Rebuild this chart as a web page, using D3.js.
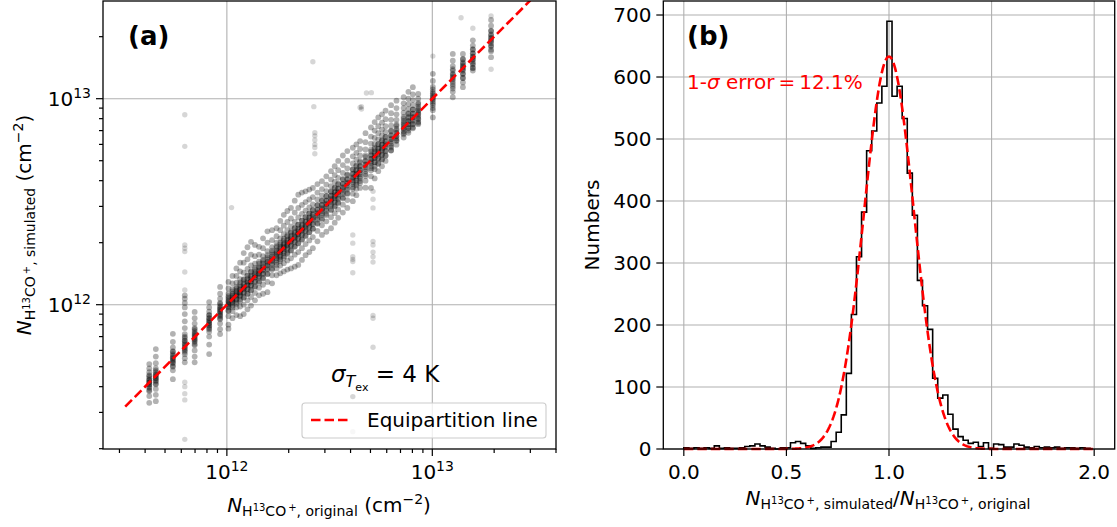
<!DOCTYPE html>
<html>
<head>
<meta charset="utf-8">
<script src="https://cdn.jsdelivr.net/npm/d3@7"></script>
<style>
  body { margin: 0; background: #fff; }
  svg { font-family: "DejaVu Sans", sans-serif; }
  text { white-space: pre; }
</style>
</head>
<body>
<svg width="1117" height="527"></svg>
<script>
// ---- panel (a): original vs simulated column density, in units of 1e12 cm^-2
const colX = [0.419, 0.451, 0.546, 0.624, 0.697, 0.820, 0.927, 1.018, 1.065, 1.113,
  1.16, 1.208, 1.26, 1.311, 1.37, 1.434, 1.50, 1.576, 1.66, 1.745,
  1.82, 1.893, 1.97, 2.051, 2.14, 2.226, 2.32, 2.416, 2.52, 2.622,
  2.76, 2.903, 3.05, 3.214, 3.35, 3.483, 3.67, 3.858, 4.102, 4.27,
  4.451, 4.73, 5.029, 5.24, 5.458, 5.69, 5.922, 6.3, 6.693, 7.254,
  7.65, 8.04, 8.54, 10.06, 12.58, 14.09, 15.75, 19.32];

// full spread of each column
const colY = [
  [0.515, 0.49, 0.47, 0.455, 0.44, 0.43, 0.42, 0.41, 0.395, 0.38, 0.36, 0.334],
  [0.609, 0.56, 0.52, 0.49, 0.47, 0.455, 0.44, 0.425, 0.41, 0.39, 0.365, 0.34],
  [0.722, 0.66, 0.62, 0.595, 0.575, 0.555, 0.54, 0.525, 0.505, 0.48, 0.435],
  [1.11, 1.07, 1.02, 0.97, 0.9, 0.83, 0.77, 0.72, 0.69, 0.665, 0.64, 0.62, 0.6, 0.575, 0.55, 0.525],
  [0.922, 0.86, 0.81, 0.77, 0.745, 0.72, 0.7, 0.68, 0.66, 0.635, 0.6, 0.56, 0.525],
  [1.03, 0.97, 0.925, 0.89, 0.86, 0.835, 0.815, 0.795, 0.77, 0.74, 0.7, 0.64, 0.576],
  [1.22, 1.13, 1.07, 1.02, 0.985, 0.955, 0.93, 0.905, 0.88, 0.85, 0.81, 0.76, 0.72],
  [1.29, 1.2, 1.13, 1.08, 1.04, 1.01, 0.98, 0.94, 0.88, 0.8, 0.765],
  [1.38, 1.27, 1.19, 1.13, 1.09, 1.06, 1.03, 0.99, 0.93, 0.86],
  [1.5, 1.38, 1.28, 1.2, 1.15, 1.11, 1.07, 1.03, 0.97, 0.89],
  [1.6, 1.45, 1.33, 1.25, 1.19, 1.15, 1.11, 1.06, 0.98, 0.88],
  [1.78, 1.6, 1.43, 1.32, 1.25, 1.2, 1.15, 1.09, 1.0, 0.9],
  [1.9, 1.66, 1.49, 1.38, 1.3, 1.25, 1.2, 1.13, 1.05, 0.95],
  [2.02, 1.75, 1.55, 1.44, 1.36, 1.3, 1.24, 1.18, 1.09, 0.99],
  [1.95, 1.72, 1.58, 1.48, 1.41, 1.36, 1.3, 1.23, 1.14, 1.05],
  [1.91, 1.75, 1.62, 1.53, 1.47, 1.42, 1.37, 1.3, 1.21, 1.11],
  [2.1, 1.88, 1.72, 1.62, 1.54, 1.48, 1.42, 1.35, 1.25, 1.13],
  [2.27, 2.0, 1.82, 1.7, 1.62, 1.56, 1.5, 1.41, 1.29, 1.15],
  [2.3, 2.06, 1.9, 1.79, 1.71, 1.65, 1.58, 1.5, 1.39, 1.27],
  [2.35, 2.15, 2.0, 1.89, 1.8, 1.74, 1.68, 1.6, 1.5, 1.39],
  [2.55, 2.3, 2.1, 1.97, 1.88, 1.81, 1.74, 1.66, 1.55, 1.42],
  [2.73, 2.42, 2.2, 2.06, 1.96, 1.89, 1.81, 1.72, 1.59, 1.45],
  [2.85, 2.52, 2.3, 2.15, 2.04, 1.96, 1.88, 1.78, 1.64, 1.48],
  [2.95, 2.62, 2.4, 2.24, 2.12, 2.04, 1.95, 1.84, 1.68, 1.5],
  [3.2, 2.8, 2.52, 2.35, 2.22, 2.13, 2.04, 1.92, 1.75, 1.53],
  [3.42, 2.95, 2.65, 2.45, 2.31, 2.21, 2.11, 1.98, 1.8, 1.56],
  [3.5, 3.05, 2.76, 2.56, 2.41, 2.31, 2.2, 2.07, 1.88, 1.65],
  [3.55, 3.15, 2.86, 2.66, 2.51, 2.41, 2.3, 2.16, 1.97, 1.74],
  [3.62, 3.24, 2.97, 2.77, 2.62, 2.51, 2.4, 2.25, 2.05, 1.8],
  [3.69, 3.33, 3.07, 2.88, 2.73, 2.61, 2.49, 2.34, 2.13, 1.88],
  [3.85, 3.5, 3.24, 3.04, 2.88, 2.76, 2.64, 2.49, 2.28, 2.03],
  [3.98, 3.64, 3.39, 3.2, 3.04, 2.91, 2.78, 2.63, 2.43, 2.18],
  [4.2, 3.83, 3.56, 3.36, 3.19, 3.06, 2.92, 2.76, 2.54, 2.26],
  [4.45, 4.05, 3.76, 3.54, 3.36, 3.22, 3.07, 2.9, 2.66, 2.35],
  [4.7, 4.26, 3.94, 3.7, 3.51, 3.36, 3.2, 3.02, 2.78, 2.5],
  [4.99, 4.5, 4.13, 3.87, 3.66, 3.5, 3.33, 3.14, 2.9, 2.64],
  [5.3, 4.76, 4.36, 4.08, 3.86, 3.69, 3.51, 3.31, 3.06, 2.8],
  [5.57, 5.0, 4.59, 4.29, 4.06, 3.88, 3.69, 3.48, 3.22, 2.95],
  [5.78, 5.25, 4.85, 4.55, 4.31, 4.12, 3.93, 3.72, 3.46, 3.18],
  [6.0, 5.46, 5.06, 4.75, 4.5, 4.3, 4.1, 3.88, 3.65, 3.4],
  [6.23, 5.7, 5.3, 4.98, 4.72, 4.5, 4.3, 4.1, 3.9, 3.69],
  [6.8, 6.15, 5.67, 5.3, 5.0, 4.77, 4.55, 4.3, 4.0, 3.7],
  [7.25, 6.55, 6.05, 5.66, 5.35, 5.1, 4.86, 4.6, 4.2, 3.69],
  [7.7, 7.0, 6.45, 6.03, 5.7, 5.43, 5.17, 4.9, 4.55, 4.1],
  [8.11, 7.35, 6.8, 6.35, 6.0, 5.7, 5.43, 5.15, 4.82, 4.45],
  [8.4, 7.65, 7.08, 6.63, 6.26, 5.95, 5.66, 5.36, 5.05, 4.7],
  [8.75, 7.95, 7.35, 6.9, 6.52, 6.2, 5.9, 5.6, 5.3, 4.99],
  [9.3, 8.5, 7.9, 7.4, 7.0, 6.65, 6.35, 6.05, 5.8, 5.6],
  [9.78, 9.0, 8.4, 7.9, 7.5, 7.15, 6.85, 6.6, 6.4, 6.23],
  [10.16, 9.5, 9.0, 8.55, 8.15, 7.8, 7.5, 7.2, 6.95, 6.72],
  [10.8, 10.0, 9.4, 8.9, 8.5, 8.15, 7.8, 7.5, 7.25, 7.0],
  [11.37, 10.5, 9.85, 9.3, 8.85, 8.45, 8.1, 7.8, 7.5, 7.25],
  [10.54, 10.0, 9.55, 9.15, 8.8, 8.5, 8.2, 7.95, 7.72, 7.52],
  [13.2, 12.2, 11.4, 10.8, 10.4, 10.05, 9.7, 9.3, 8.8, 8.11],
  [16.5, 15.3, 14.4, 13.7, 13.1, 12.6, 12.1, 11.5, 10.8, 10.16],
  [16.5, 15.6, 15.0, 14.5, 14.1, 13.7, 13.2, 12.6, 12.0, 11.37],
  [19.2, 18.1, 17.3, 16.6, 16.0, 15.6, 15.1, 14.6, 14.1, 13.7],
  [24.1, 22.6, 21.4, 20.5, 19.8, 19.2, 18.6, 17.9, 17.0, 15.9]
];

// extra points in the crowded middle of each column
const colCore = [
  [0.45, 0.43, 0.42, 0.41, 0.4, 0.385],
  [0.48, 0.46, 0.45, 0.44, 0.43, 0.415],
  [0.59, 0.565, 0.55, 0.535, 0.52, 0.5],
  [0.7, 0.67, 0.65, 0.63, 0.61, 0.59],
  [0.76, 0.73, 0.71, 0.69, 0.67, 0.645],
  [0.89, 0.86, 0.835, 0.81, 0.785, 0.76],
  [1.01, 0.97, 0.945, 0.92, 0.89, 0.86],
  [1.1, 1.06, 1.03, 1.0, 0.97, 0.93],
  [1.16, 1.11, 1.08, 1.05, 1.02, 0.97],
  [1.22, 1.17, 1.13, 1.1, 1.06, 1.01],
  [1.28, 1.22, 1.18, 1.14, 1.1, 1.04],
  [1.33, 1.27, 1.22, 1.19, 1.14, 1.08],
  [1.39, 1.33, 1.28, 1.24, 1.19, 1.13],
  [1.45, 1.38, 1.33, 1.29, 1.24, 1.17],
  [1.51, 1.44, 1.39, 1.35, 1.29, 1.22],
  [1.58, 1.51, 1.45, 1.41, 1.35, 1.28],
  [1.65, 1.58, 1.52, 1.47, 1.41, 1.34],
  [1.74, 1.66, 1.6, 1.55, 1.48, 1.41],
  [1.83, 1.75, 1.68, 1.63, 1.56, 1.48],
  [1.92, 1.83, 1.77, 1.71, 1.64, 1.56],
  [2.0, 1.91, 1.84, 1.79, 1.71, 1.63],
  [2.09, 1.99, 1.92, 1.86, 1.78, 1.69],
  [2.17, 2.07, 2.0, 1.94, 1.85, 1.76],
  [2.26, 2.16, 2.08, 2.02, 1.93, 1.83],
  [2.36, 2.25, 2.17, 2.1, 2.01, 1.91],
  [2.45, 2.34, 2.26, 2.19, 2.09, 1.99],
  [2.56, 2.44, 2.35, 2.28, 2.18, 2.07],
  [2.66, 2.54, 2.45, 2.37, 2.27, 2.16],
  [2.78, 2.65, 2.56, 2.48, 2.37, 2.25],
  [2.89, 2.76, 2.66, 2.58, 2.46, 2.34],
  [3.04, 2.9, 2.8, 2.71, 2.59, 2.47],
  [3.2, 3.05, 2.94, 2.85, 2.73, 2.59],
  [3.36, 3.21, 3.09, 3.0, 2.86, 2.72],
  [3.54, 3.38, 3.26, 3.16, 3.02, 2.87],
  [3.69, 3.52, 3.4, 3.29, 3.15, 2.99],
  [3.84, 3.66, 3.53, 3.42, 3.27, 3.11],
  [4.05, 3.86, 3.72, 3.61, 3.45, 3.28],
  [4.25, 4.06, 3.91, 3.79, 3.62, 3.45],
  [4.52, 4.31, 4.16, 4.03, 3.85, 3.66],
  [4.71, 4.49, 4.33, 4.2, 4.01, 3.81],
  [4.91, 4.68, 4.51, 4.37, 4.18, 3.98],
  [5.21, 4.97, 4.8, 4.65, 4.44, 4.22],
  [5.54, 5.29, 5.1, 4.94, 4.72, 4.49],
  [5.78, 5.51, 5.31, 5.15, 4.92, 4.68],
  [6.02, 5.74, 5.53, 5.36, 5.12, 4.87],
  [6.27, 5.98, 5.77, 5.59, 5.34, 5.08],
  [6.53, 6.23, 6.0, 5.82, 5.56, 5.29],
  [6.95, 6.62, 6.39, 6.19, 5.91, 5.62],
  [7.38, 7.04, 6.79, 6.58, 6.28, 5.98],
  [8.0, 7.63, 7.36, 7.13, 6.81, 6.48],
  [8.43, 8.04, 7.76, 7.52, 7.18, 6.83],
  [8.86, 8.45, 8.15, 7.9, 7.55, 7.18],
  [9.42, 8.98, 8.66, 8.39, 8.02, 7.63],
  [11.1, 10.6, 10.2, 9.9, 9.5, 9.0],
  [13.9, 13.2, 12.8, 12.4, 11.8, 11.2],
  [15.5, 14.8, 14.3, 13.9, 13.2, 12.6],
  [17.4, 16.6, 16.0, 15.5, 14.8, 14.1],
  [21.3, 20.3, 19.6, 19.0, 18.1, 17.3]
];

// stray points away from the main band
const strayX = [0.624, 0.624, 0.624, 0.624, 0.624, 0.624, 0.624, 0.624, 0.624, 0.624, 0.624, 0.624,
  1.054, 2.622, 2.65, 2.68, 2.68, 2.68, 2.68, 2.68, 2.68,
  4.102, 4.102, 4.102, 4.102, 4.102, 4.102, 4.102, 4.102,
  4.52, 4.52, 4.78, 5.05, 4.451,
  5.145, 5.145, 5.145, 5.145, 5.145, 5.145, 5.145, 5.145, 5.145, 5.145, 5.145,
  10.06, 13.8, 15.75, 19.32, 19.32];
const strayY = [8.36, 5.87, 1.95, 1.88, 1.81, 1.44, 1.18, 0.42, 0.40, 0.37, 0.345, 0.222,
  2.96, 15.1, 9.15, 6.84, 6.6, 6.3, 6.0, 5.8, 5.4,
  2.18, 1.99, 1.71, 1.66, 1.62, 1.43, 0.358, 0.242,
  9.15, 8.9, 10.66, 10.7, 9.07,
  3.55, 3.25, 2.95, 2.03, 1.95, 1.8, 1.71, 1.61, 0.887, 0.859, 0.621,
  16.1, 24.7, 21.97, 25.2, 13.9];

const lineEnds = [0.32, 30];
const xMajorA = [1, 10];
const xMinorA = [0.3, 0.4, 0.5, 0.6, 0.7, 0.8, 0.9, 2, 3, 4, 5, 6, 7, 8, 9, 20, 30, 40];
const yMajorA = [1, 10];
const yMinorA = [0.2, 0.3, 0.4, 0.5, 0.6, 0.7, 0.8, 0.9, 2, 3, 4, 5, 6, 7, 8, 9, 20];
const majorExp = ['12', '13'];

// ---- panel (b): histogram of simulated / original
const binStart = 0;
const binWidth = 0.02475;
const counts = [2, 1, 2, 1, 2, 1, 5, 1, 2, 1,
  1, 2, 4, 5, 8, 5, 3, 1, 0, 2,
  2, 10, 12, 9, 5, 1, 2, 3, 3, 12,
  27, 55, 122, 217, 310, 382, 481, 513, 558, 585,
  690, 569, 585, 533, 445, 377, 272, 231, 193, 114,
  82, 87, 56, 32, 20, 14, 9, 11, 4, 10,
  1, 8, 7, 3, 3, 8, 6, 3, 2, 4,
  2, 3, 2, 3, 1, 2, 2, 1, 2, 1];
const fitMean = 1.0, fitSigma = 0.121, fitAmp = 633;
const fitRange = [0, 2];
const xTicksB = [0, 0.5, 1.0, 1.5, 2.0];
const yTicksB = [0, 100, 200, 300, 400, 500, 600, 700];

const svg = d3.select('svg');
const grid = '#b0b0b0';
const dash = '9.5,4';

// writes text with sub/superscripts; parts = [text, size, baseline shift, italic]
const mathText = (g, x, y, parts, anchor) => {
  const t = g.append('text').attr('x', x).attr('y', y)
    .attr('text-anchor', anchor || 'start');
  let prev = 0;
  parts.forEach(([s, size, shift, it]) => {
    t.append('tspan')
      .attr('dy', shift - prev)
      .attr('font-size', size)
      .attr('font-style', it ? 'italic' : null)
      .text(s);
    prev = shift;
  });
  return t;
};
const speciesParts = (tail) => [
  ['N', 20, 0, true], ['H', 14, 4], ['13', 10, -1], ['CO', 14, 4], ['\u2009+', 10, -1], [tail, 14, 4]
];

// ================= panel (a) =================
const xA = d3.scaleLog().domain([0.2495, 40]).range([103, 556]);
const yA = d3.scaleLog().domain([0.1993, 29.8]).range([449, 1]);
const gA = svg.append('g');

svg.append('clipPath').attr('id', 'clipA')
  .append('rect').attr('x', 103).attr('y', 1).attr('width', 453).attr('height', 448);

gA.selectAll('line.gx').data(xMajorA).enter().append('line')
  .attr('x1', d => xA(d)).attr('x2', d => xA(d)).attr('y1', 1).attr('y2', 449)
  .attr('stroke', grid).attr('stroke-width', 1.1);
gA.selectAll('line.gy').data(yMajorA).enter().append('line')
  .attr('y1', d => yA(d)).attr('y2', d => yA(d)).attr('x1', 103).attr('x2', 556)
  .attr('stroke', grid).attr('stroke-width', 1.1);

const band = [];
colX.forEach((x, i) => {
  colY[i].forEach(y => band.push([x, y]));
  colCore[i].forEach(y => band.push([x, y]));
});
const strays = strayX.map((x, i) => [x, strayY[i]]);

const dots = gA.append('g').attr('clip-path', 'url(#clipA)');
dots.selectAll('circle.s').data(strays).enter().append('circle')
  .attr('cx', d => xA(d[0]))
  .attr('cy', d => yA(d[1]))
  .attr('r', 2.7)
  .attr('fill', '#000')
  .attr('fill-opacity', 0.16);
dots.selectAll('circle.b').data(band).enter().append('circle')
  .attr('cx', d => xA(d[0]))
  .attr('cy', d => yA(d[1]))
  .attr('r', 2.9)
  .attr('fill', '#000')
  .attr('fill-opacity', 0.3);

dots.append('line')
  .attr('x1', xA(lineEnds[0])).attr('y1', yA(lineEnds[0]))
  .attr('x2', xA(lineEnds[1])).attr('y2', yA(lineEnds[1]))
  .attr('stroke', 'red').attr('stroke-width', 2.6).attr('stroke-dasharray', dash);

gA.append('rect').attr('x', 103).attr('y', 1).attr('width', 453).attr('height', 448)
  .attr('fill', 'none').attr('stroke', '#000').attr('stroke-width', 1.3);

// ticks
gA.selectAll('line.xt').data(xMajorA.concat(xMinorA)).enter().append('line')
  .attr('x1', d => xA(d)).attr('x2', d => xA(d))
  .attr('y1', 449).attr('y2', d => 449 + (xMajorA.includes(d) ? 7 : 4))
  .attr('stroke', '#000').attr('stroke-width', 1.2);
gA.selectAll('line.yt').data(yMajorA.concat(yMinorA)).enter().append('line')
  .attr('y1', d => yA(d)).attr('y2', d => yA(d))
  .attr('x1', 103).attr('x2', d => 103 - (yMajorA.includes(d) ? 7 : 4))
  .attr('stroke', '#000').attr('stroke-width', 1.2);

xMajorA.forEach((d, i) => {
  mathText(gA, xA(d), 479, [['10', 20, 0], [majorExp[i], 14, -8]], 'middle');
});
yMajorA.forEach((d, i) => {
  mathText(gA, 91, yA(d) + 7, [['10', 20, 0], [majorExp[i], 14, -8]], 'end');
});

mathText(gA, 329, 512, speciesParts(', original')
  .concat([[' (cm', 20, 0], ['\u22122', 14, -8], [')', 20, 0]]), 'middle');
mathText(gA.append('g').attr('transform', 'translate(31,225) rotate(-90)'), 0, 0,
  speciesParts(', simulated').concat([[' (cm', 20, 0], ['\u22122', 14, -8], [')', 20, 0]]), 'middle');

gA.append('text').attr('x', 128).attr('y', 45)
  .attr('font-size', 26).attr('font-weight', 'bold').text('(a)');

mathText(gA, 331, 382, [['\u03c3', 23, 0, true], ['T', 16, 5, true], ['ex', 11, 9], [' = 4 K', 23, 0]]);

// legend
const leg = gA.append('g');
leg.append('rect').attr('x', 302).attr('y', 403).attr('width', 244).attr('height', 35)
  .attr('rx', 3).attr('fill', '#fff').attr('fill-opacity', 0.8)
  .attr('stroke', '#cccccc').attr('stroke-width', 1.1);
leg.append('line').attr('x1', 311).attr('x2', 351).attr('y1', 420).attr('y2', 420)
  .attr('stroke', 'red').attr('stroke-width', 2.6).attr('stroke-dasharray', dash);
leg.append('text').attr('x', 367).attr('y', 427).attr('font-size', 20).text('Equipartition line');

// ================= panel (b) =================
const xB = d3.scaleLinear().domain([-0.1, 2.1]).range([663.3, 1114.7]);
const yB = d3.scaleLinear().domain([0, 722.6]).range([449, 1]);
const gB = svg.append('g');

gB.selectAll('line.gx').data(xTicksB).enter().append('line')
  .attr('x1', d => xB(d)).attr('x2', d => xB(d)).attr('y1', 1).attr('y2', 449)
  .attr('stroke', grid).attr('stroke-width', 1.1);
gB.selectAll('line.gy').data(yTicksB).enter().append('line')
  .attr('y1', d => yB(d)).attr('y2', d => yB(d)).attr('x1', 663.3).attr('x2', 1114.7)
  .attr('stroke', grid).attr('stroke-width', 1.1);

const step = [[binStart, 0]];
counts.forEach((c, i) => {
  step.push([binStart + i * binWidth, c]);
  step.push([binStart + (i + 1) * binWidth, c]);
});
step.push([binStart + counts.length * binWidth, 0]);

gB.append('path')
  .attr('d', d3.line().x(d => xB(d[0])).y(d => yB(d[1]))(step))
  .attr('fill', 'none').attr('stroke', '#000').attr('stroke-width', 1.6)
  .attr('stroke-linejoin', 'miter');

const fit = d3.range(0, 401).map(i => {
  const x = fitRange[0] + (fitRange[1] - fitRange[0]) * i / 400;
  return [x, fitAmp * Math.exp(-0.5 * ((x - fitMean) / fitSigma) ** 2)];
});
gB.append('path')
  .attr('d', d3.line().x(d => xB(d[0])).y(d => yB(d[1]))(fit))
  .attr('fill', 'none').attr('stroke', 'red').attr('stroke-width', 2.6)
  .attr('stroke-dasharray', dash);

gB.append('rect').attr('x', 663.3).attr('y', 1).attr('width', 451.4).attr('height', 448)
  .attr('fill', 'none').attr('stroke', '#000').attr('stroke-width', 1.3);

gB.selectAll('line.xt').data(xTicksB).enter().append('line')
  .attr('x1', d => xB(d)).attr('x2', d => xB(d)).attr('y1', 449).attr('y2', 456)
  .attr('stroke', '#000').attr('stroke-width', 1.2);
gB.selectAll('text.xl').data(xTicksB).enter().append('text')
  .attr('x', d => xB(d)).attr('y', 479).attr('text-anchor', 'middle')
  .attr('font-size', 20).text(d3.format('.1f'));
gB.selectAll('line.yt').data(yTicksB).enter().append('line')
  .attr('y1', d => yB(d)).attr('y2', d => yB(d)).attr('x1', 663.3).attr('x2', 656.3)
  .attr('stroke', '#000').attr('stroke-width', 1.2);
gB.selectAll('text.yl').data(yTicksB).enter().append('text')
  .attr('x', 651.5).attr('y', d => yB(d) + 7).attr('text-anchor', 'end')
  .attr('font-size', 20).text(d => d);

mathText(gB, 888, 505, speciesParts(', simulated')
  .concat([['/', 20, 0], ['N', 20, 0, true], ['H', 14, 4], ['13', 10, -1], ['CO', 14, 4], ['\u2009+', 10, -1], [', original', 14, 4]]),
  'middle');
gB.append('text').attr('transform', 'translate(599,225) rotate(-90)')
  .attr('text-anchor', 'middle').attr('font-size', 20).text('Numbers');

gB.append('text').attr('x', 687).attr('y', 45)
  .attr('font-size', 26).attr('font-weight', 'bold').text('(b)');
mathText(gB, 687, 89, [['1-', 20, 0], ['\u03c3', 20, 0, true], [' error\u2009=\u200912.1%', 20, 0]])
  .attr('fill', 'red');
</script>
</body>
</html>
